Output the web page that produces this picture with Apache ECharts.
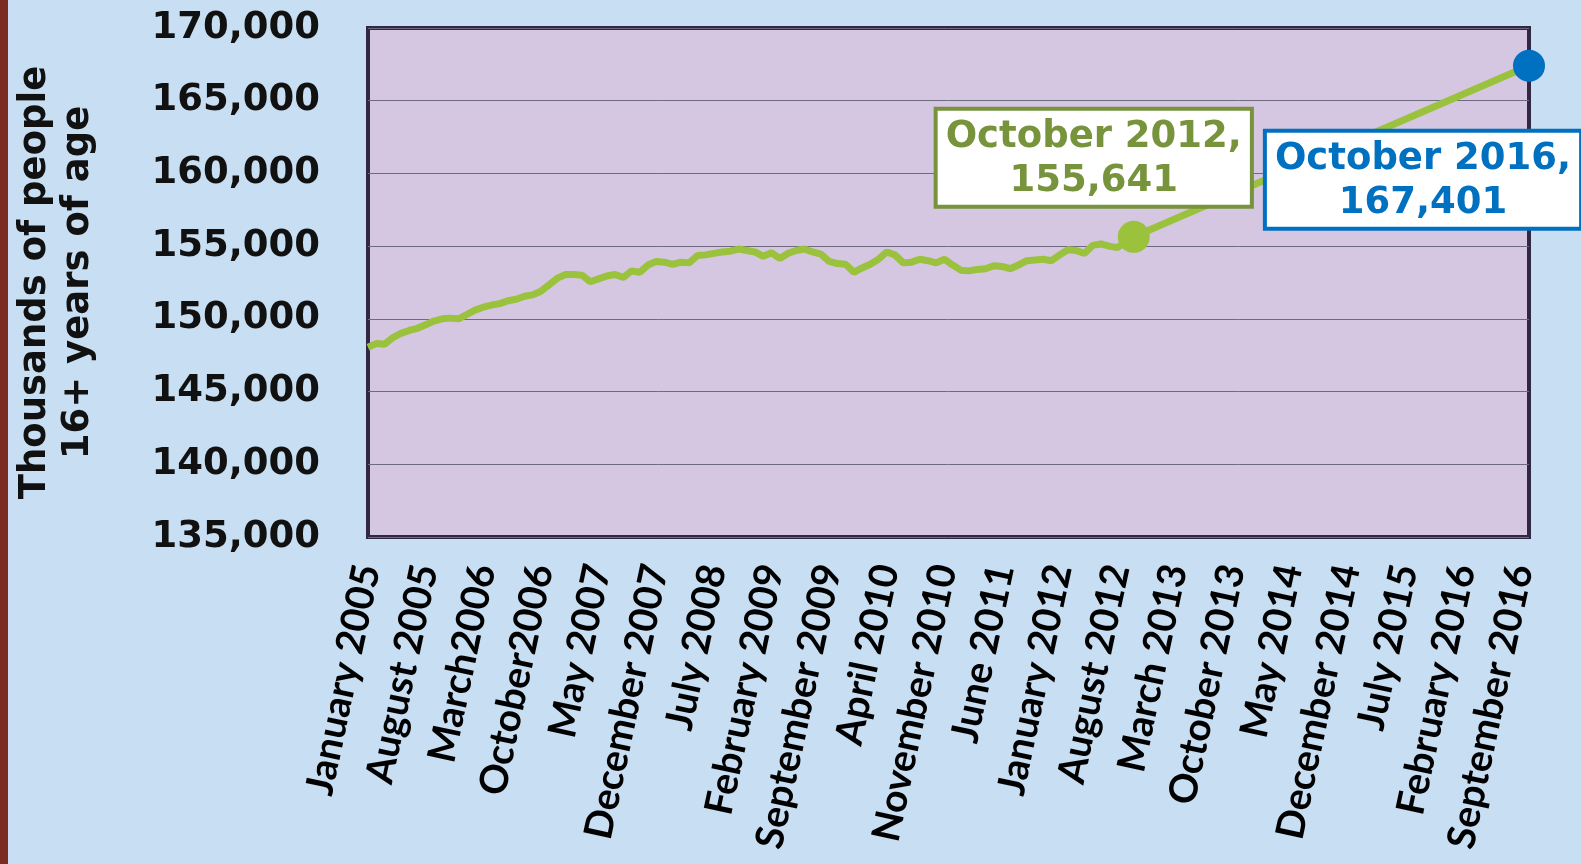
<!DOCTYPE html>
<html lang="en">
<head>
    <meta charset="UTF-8">
    <title>Labor force</title>
    <script type="text/javascript" src="https://cdn.jsdelivr.net/npm/echarts@6/dist/echarts.min.js"></script>
    <style>
        html, body { margin: 0; padding: 0; background: #c8def2; }
        #chart { width: 1581px; height: 864px; }
    </style>
</head>
<body>
    <div id="chart"></div>
    <script>
        // monthly values, January 2005 .. October 2012 (thousands)
        var values = [
            148050, 148300, 148250, 148700, 149000, 149200, 149350, 149600, 149850, 150000, 150050, 150000,
            150300, 150600, 150800, 150950, 151050, 151250, 151350, 151550, 151650, 151900, 152350, 152800,
            153050, 153050, 153000, 152550, 152750, 152950, 153050, 152850, 153300, 153200, 153700, 153950,
            153900, 153750, 153900, 153850, 154350, 154400, 154500, 154600, 154650, 154800, 154700, 154600,
            154300, 154550, 154150, 154500, 154700, 154800, 154600, 154450, 153950, 153800, 153750, 153200,
            153500, 153750, 154100, 154600, 154400, 153850, 153900, 154100, 154000, 153850, 154100, 153700,
            153350, 153300, 153400, 153450, 153650, 153600, 153450, 153700, 154000, 154050, 154100, 154000,
            154400, 154750, 154700, 154500, 155050, 155150, 155000, 154900, 155300, 155641
        ];
        var startValue = { month: 'October 2012', value: 155641 };
        var endValue = { month: 'October 2016', value: 167401 };

        var monthNames = ['January', 'February', 'March', 'April', 'May', 'June', 'July',
            'August', 'September', 'October', 'November', 'December'];
        var tickLabels = ['January 2005', 'August 2005', 'March2006', 'October2006', 'May 2007',
            'December 2007', 'July 2008', 'February 2009', 'September 2009', 'April 2010',
            'November 2010', 'June 2011', 'January 2012', 'August 2012', 'March 2013',
            'October 2013', 'May 2014', 'December 2014', 'July 2015', 'February 2016',
            'September 2016'];

        // January 2005 .. October 2016
        var categories = [];
        for (var y = 2005; y <= 2016; y++) {
            for (var m = 0; m < 12; m++) {
                if (y === 2016 && m > 9) break;
                categories.push(monthNames[m] + ' ' + y);
            }
        }

        var lineData = categories.map(function (c, i) {
            if (i < values.length) return values[i];
            if (c === endValue.month) return endValue.value;
            return null;
        });

        var chart = echarts.init(document.getElementById('chart'));
        var boxFont = {
            fontFamily: 'DejaVu Sans',
            fontWeight: 'bold',
            fontSize: 37,
            lineHeight: 44,
            backgroundColor: '#ffffff',
            borderWidth: 4,
            padding: [5, 8, 1, 8],
            opacity: 1
        };
        var option = {
            backgroundColor: '#c8def2',
            animation: false,
            grid: {
                left: 368, right: 52, top: 28, bottom: 327,
                outerBoundsMode: 'none',
                containLabel: false,
                show: true,
                backgroundColor: '#d5c6e2',
                borderColor: '#2f2743',
                borderWidth: 4
            },
            graphic: [{
                type: 'rect',
                shape: { x: 0, y: 0, width: 8, height: 864 },
                style: { fill: '#7b2b22' }
            }],
            xAxis: {
                type: 'category',
                data: categories,
                boundaryGap: false,
                axisLine: { show: false },
                axisTick: { show: false },
                axisLabel: {
                    interval: 6,
                    rotate: 78,
                    margin: 28,
                    color: '#000',
                    fontFamily: 'Lato',
                    fontWeight: 'bold',
                    fontSize: 39,
                    formatter: function (v, i) {
                        return tickLabels[Math.round(i / 7)] || '';
                    }
                }
            },
            yAxis: {
                type: 'value',
                min: 135000,
                max: 170000,
                interval: 5000,
                name: 'Thousands of people\n16+ years of age',
                nameLocation: 'middle',
                nameRotate: 90,
                nameGap: 268,
                nameTextStyle: {
                    color: '#111',
                    fontFamily: 'DejaVu Sans',
                    fontWeight: 'bold',
                    fontSize: 37,
                    lineHeight: 43
                },
                axisLine: { show: false },
                axisTick: { show: false },
                splitLine: { lineStyle: { color: '#6e6a80', width: 1 } },
                axisLabel: {
                    margin: 48,
                    color: '#111',
                    fontFamily: 'DejaVu Sans',
                    fontWeight: 'bold',
                    fontSize: 37,
                    formatter: function (v) { return v.toLocaleString('en-US'); }
                }
            },
            series: [{
                type: 'line',
                data: lineData,
                connectNulls: true,
                symbol: 'none',
                lineStyle: { color: '#9bc23c', width: 7 },
                z: 2
            }, {
                type: 'scatter',
                symbolSize: 32,
                z: 3,
                itemStyle: { opacity: 1 },
                data: [{
                    value: [startValue.month, startValue.value],
                    itemStyle: { color: '#9bc23c', opacity: 1 },
                    label: Object.assign({
                        show: true,
                        position: 'top',
                        distance: 16,
                        offset: [-40, 0],
                        color: '#77933c',
                        borderColor: '#77933c',
                        formatter: startValue.month + ',\n' + startValue.value.toLocaleString('en-US')
                    }, boxFont)
                }, {
                    value: [endValue.month, endValue.value],
                    itemStyle: { color: '#0070c0', opacity: 1 },
                    label: Object.assign({
                        show: true,
                        position: 'bottom',
                        distance: 51,
                        offset: [-106, 0],
                        color: '#0070c0',
                        borderColor: '#0070c0',
                        formatter: endValue.month + ',\n' + endValue.value.toLocaleString('en-US')
                    }, boxFont)
                }]
            }]
        };
        chart.setOption(option);
    </script>
</body>
</html>
